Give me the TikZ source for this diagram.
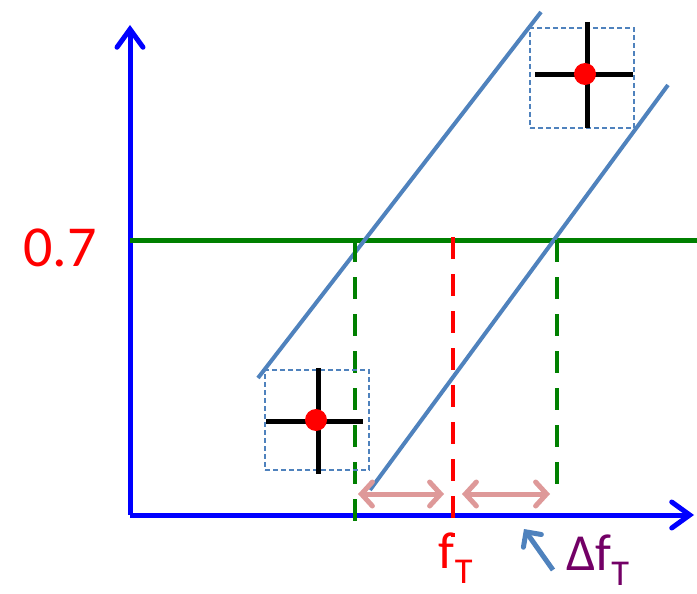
\documentclass[tikz,border=0pt]{standalone}
\usepackage{fontspec}
\setmainfont{Carlito}
\usetikzlibrary{arrows.meta,positioning}
\definecolor{axisblue}{rgb}{0.0,0.0,1.0}
\definecolor{levelgreen}{rgb}{0.0,0.5,0.0}
\definecolor{bandblue}{rgb}{0.31,0.51,0.74}
\definecolor{gappink}{rgb}{0.87,0.6,0.6}
\definecolor{labelplum}{rgb}{0.45,0.0,0.4}
\tikzset{
  axis/.style={
    line width=5pt,
    axisblue,
    -{Straight Barb[length=18pt,width=26pt,line width=5pt,line cap=round]}
  },
  band/.style={
    line width=4pt,
    bandblue
  },
  guide/.style={
    line width=4.5pt,
    dash pattern=on 22pt off 15pt
  },
  gap/.style={
    line width=5pt,
    gappink,
    {Straight Barb[length=11pt,width=24pt,line width=5pt,line cap=round]}-{Straight Barb[length=11pt,width=24pt,line width=5pt,line cap=round]}
  },
  errbox/.style={
    draw=bandblue,
    line width=1.2pt,
    dash pattern=on 5pt off 3pt,
    minimum width=104pt,
    minimum height=100pt,
    inner sep=0pt
  },
  bar/.style={
    line width=5pt,
    black
  },
  dot/.style={
    circle,
    fill=red,
    minimum size=22pt,
    inner sep=0pt
  },
  biglabel/.style={
    font=\fontsize{52}{54}\selectfont,
    inner sep=0pt
  }
}

\begin{document}
\begin{tikzpicture}[x=1pt,y=-1pt]
\useasboundingbox (0,0) rectangle (697,594);
% axes
\coordinate (o) at (130,515);
\coordinate (ytop) at (130,25);
\coordinate (xend) at (694,515);
\draw[axis] (o) -- (ytop);
\draw[axis] (o) -- (xend);
% 0.7 level
\coordinate (lvl) at (130,240);
\coordinate (lvlend) at (697,240);
\draw[line width=5pt,levelgreen] (lvl) -- (lvlend);
\node[biglabel,red,font=\fontsize{58}{60}\selectfont] (lvltxt) at (60,248) {0.7};
% blue band
\coordinate (b1s) at (258,378);
\coordinate (b1e) at (541,12);
\coordinate (b2s) at (370,490);
\coordinate (b2e) at (668,85);
\draw[band] (b1s) -- (b1e);
\draw[band] (b2s) -- (b2e);
% dashed guides
\coordinate (g1t) at (355,240);
\coordinate (g1b) at (355,530);
\coordinate (g2t) at (557,240);
\coordinate (g2b) at (557,498);
\coordinate (ft) at (453,237);
\coordinate (fb) at (453,537);
\draw[guide,levelgreen] (g1t) -- (g1b);
\draw[guide,levelgreen] (g2t) -- (g2b);
\draw[guide,red] (ft) -- (fb);
% gaps
\coordinate (a1) at (358,494);
\coordinate (a2) at (444,494);
\coordinate (a3) at (462,494);
\coordinate (a4) at (550,494);
\draw[gap] (a1) -- (a2);
\draw[gap] (a3) -- (a4);
% labels
\node[biglabel,red] (fT) at (456,558) {f\textsubscript{T}};
\node[biglabel,labelplum] (dfT) at (598,560) {Δf\textsubscript{T}};
\coordinate (dtip) at (524,529);
\coordinate (dtail) at (553,570);
\draw[line width=5pt,bandblue,-{Straight Barb[length=11pt,width=22pt,line width=5pt,line cap=round]}] (dtail) -- (dtip);
% error crosses
\node[errbox] (lo) at (317,420) {};
\draw[bar] (266,421) -- (363,421);
\draw[bar] (318,368) -- (318,474);
\node[dot] (lodot) at (316,420) {};
\node[errbox] (hi) at (582,78) {};
\draw[bar] (535,75) -- (633,75);
\draw[bar] (587,22) -- (587,128);
\node[dot] (hidot) at (585,74) {};
\end{tikzpicture}
\end{document}
